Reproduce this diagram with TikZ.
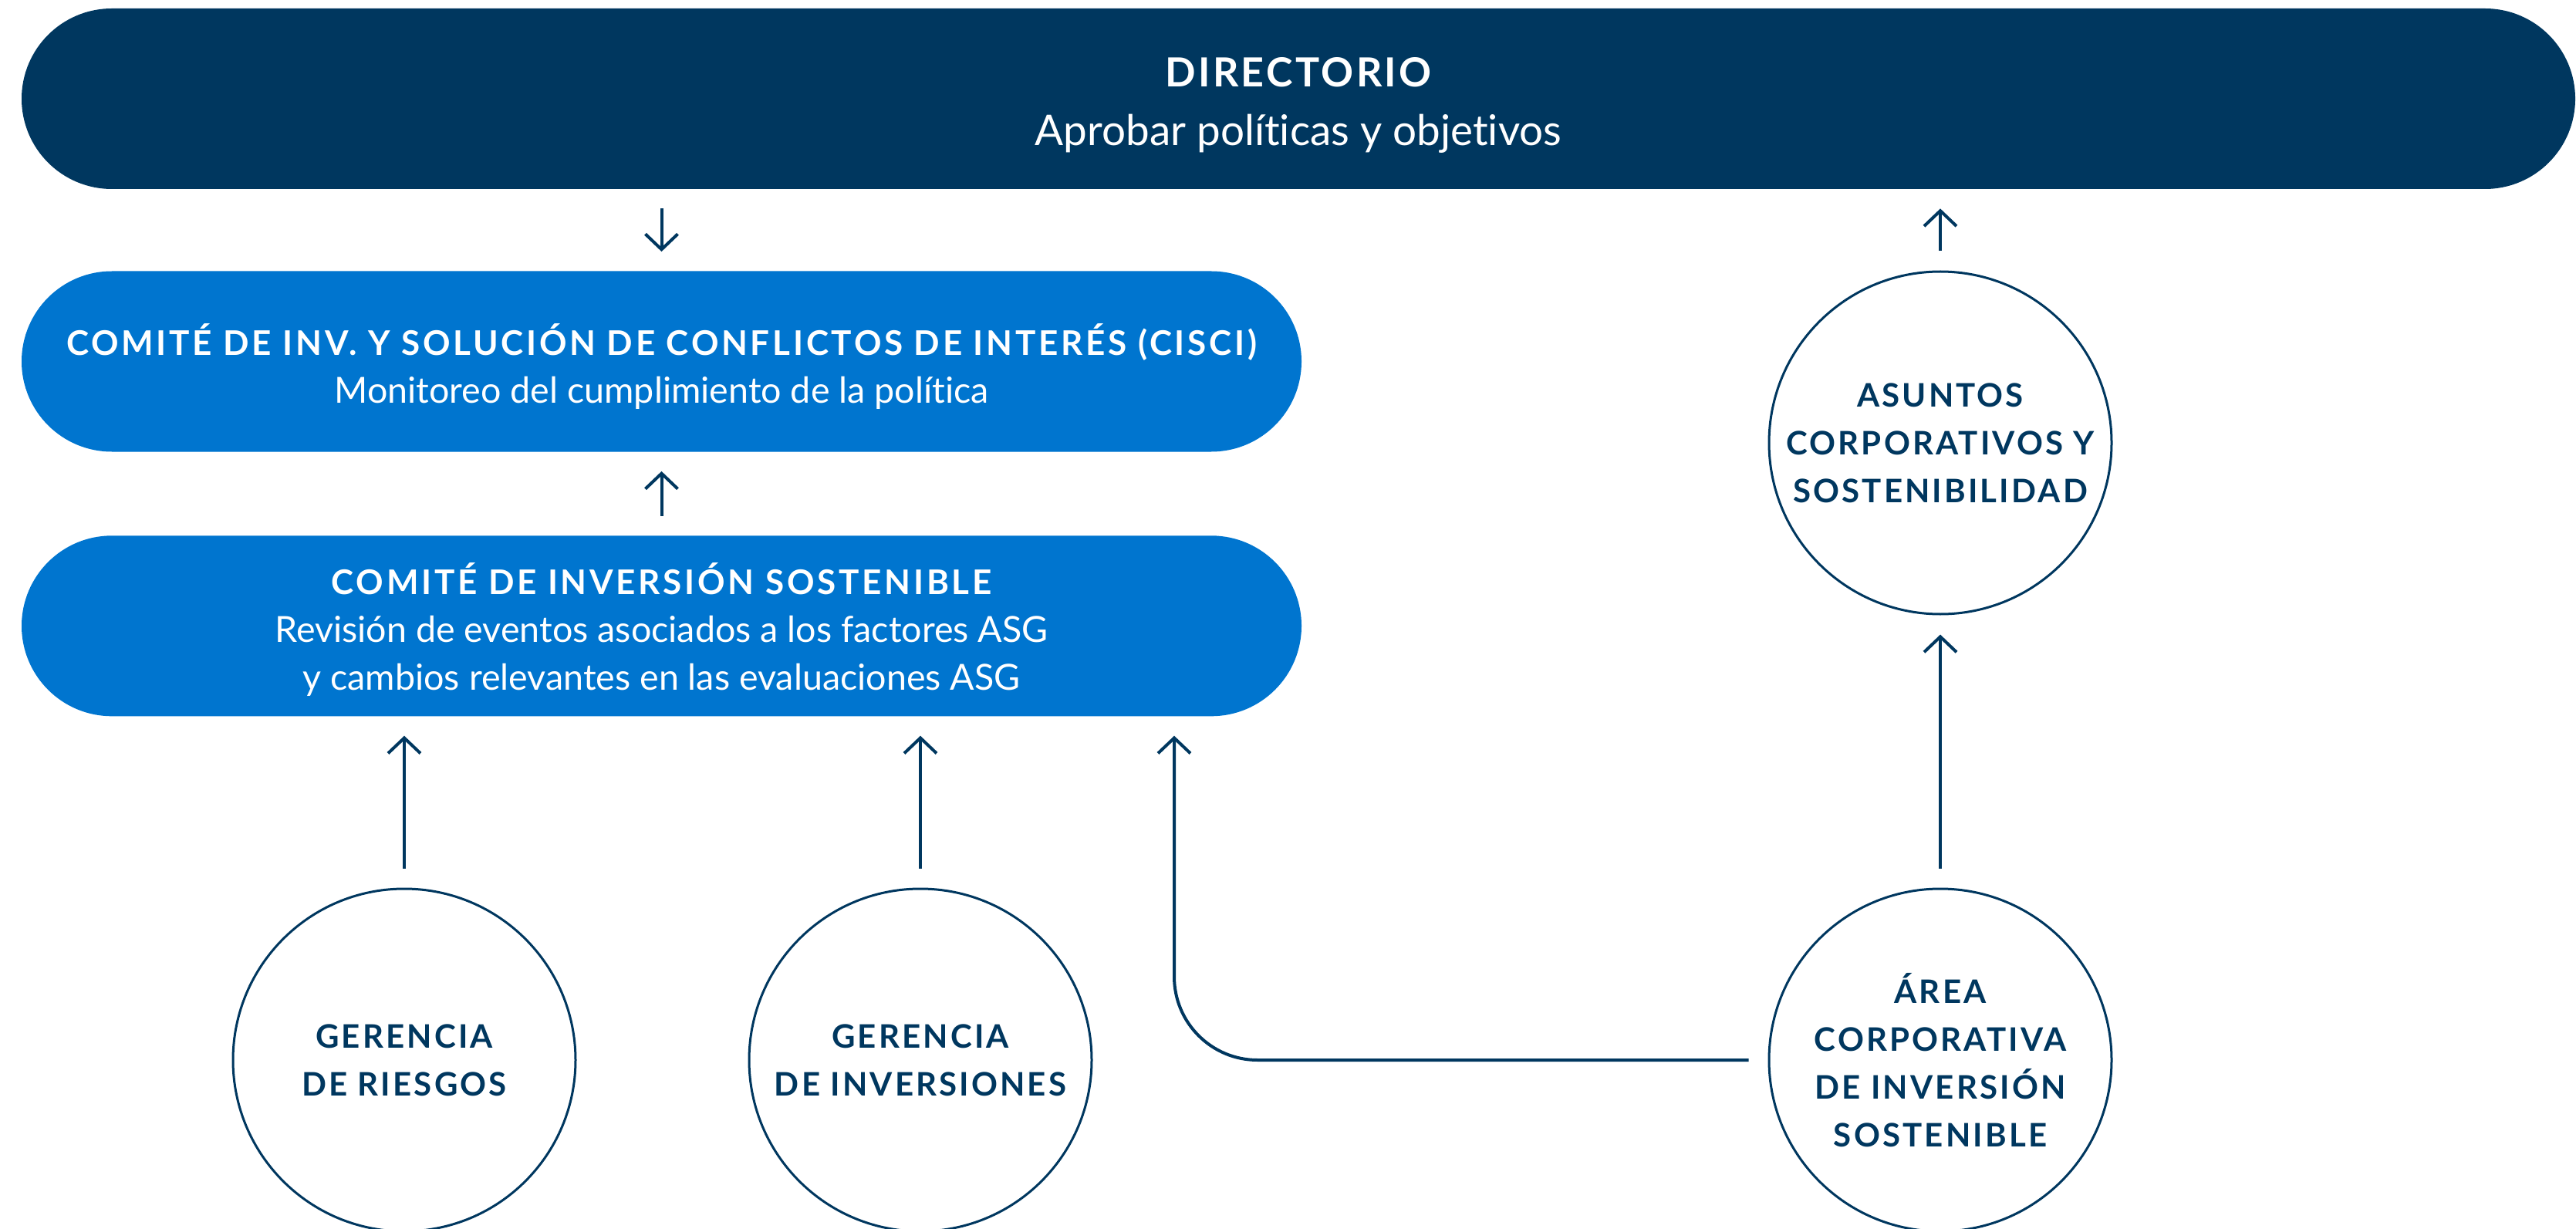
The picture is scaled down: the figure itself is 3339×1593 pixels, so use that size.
\documentclass[tikz,border=0pt]{standalone}
\usepackage{fontspec}
\setmainfont[Ligatures={NoCommon}]{Lato}
\usepackage{tikz}
\usetikzlibrary{arrows.meta,positioning}

\definecolor{navy}{HTML}{00375F}
\definecolor{azul}{HTML}{0075CF}

% font switches
\newcommand{\subfont}{\fontsize{23.3pt}{31pt}\selectfont}
\newcommand{\bartitle}{\fontsize{22pt}{26pt}\selectfont\bfseries\addfontfeature{LetterSpace=8.5}}
\newcommand{\dirtitle}{\fontsize{26pt}{30pt}\selectfont\bfseries\addfontfeature{LetterSpace=6.5}}
\newcommand{\circfont}{\fontsize{21pt}{31pt}\selectfont\bfseries\addfontfeature{LetterSpace=7.5}}

\begin{document}
\begin{tikzpicture}[
    x=0.5pt, y=-0.5pt,
    barra/.style={rounded corners=58.5pt, minimum width=829.5pt, minimum height=117pt, inner sep=0pt},
    bartext/.style={inner sep=0pt, align=center, text=white, font=\subfont},
    circulo/.style={circle, draw=navy, line width=1.5pt, minimum size=222pt, inner sep=0pt, align=center, text=navy, font=\circfont},
    flecha/.style={-{Straight Barb[length=10pt,width=21pt]}, line width=2pt, navy, shorten <=12.5pt, shorten >=12.5pt},
]
\useasboundingbox (0,0) rectangle (3339,1593);

% bars
\node[barra, fill=navy, minimum width=1655pt] (dir) at (1683,128) {};
\node[barra, fill=azul] (cisci) at (857.5,468.5) {};
\node[barra, fill=azul, below=54pt of cisci] (sis) {};

% bar texts
\node[bartext, font=\fontsize{27.4pt}{31pt}\selectfont, yshift=-4.2pt] (dirtxt) at (dir)
    {{\dirtitle DIRECTORIO}\\[7pt]Aprobar políticas y objetivos};
\node[bartext, yshift=-3.5pt] (ciscitxt) at (cisci)
    {{\bartitle COMITÉ DE INV. Y SOLUCIÓN DE CONFLICTOS DE INTERÉS (CISCI)}\\Monitoreo del cumplimiento de la política};
\node[bartext, yshift=-2.5pt] (sistxt) at (sis)
    {{\bartitle COMITÉ DE INVERSIÓN SOSTENIBLE}\\Revisión de eventos asociados a los factores ASG\\y cambios relevantes en las evaluaciones ASG};

% circles
\node[circulo] (riesgos) at (524,1374) {GERENCIA\\DE RIESGOS};
\node[circulo, right=111pt of riesgos] (inversiones) {GERENCIA\\DE INVERSIONES};
\node[circulo] (area) at (2515,1374) {ÁREA\\CORPORATIVA\\DE INVERSIÓN\\SOSTENIBLE};
\node[circulo, above=176.5pt of area] (asuntos) {ASUNTOS\\CORPORATIVOS Y\\SOSTENIBILIDAD};

% arrows
\draw[flecha] (cisci.north |- dir.south) -- (cisci.north);
\draw[flecha] (sis.north) -- (cisci.south);
\draw[flecha] (riesgos.north) -- (riesgos.north |- sis.south);
\draw[flecha] (inversiones.north) -- (inversiones.north |- sis.south);
\coordinate (codo) at (1522,1374);
\draw[flecha, rounded corners=54pt] (area.west) -- (codo) -- (codo |- sis.south);
\draw[flecha] (area.north) -- (asuntos.south);
\draw[flecha] (asuntos.north) -- (asuntos.north |- dir.south);
\end{tikzpicture}
\end{document}
